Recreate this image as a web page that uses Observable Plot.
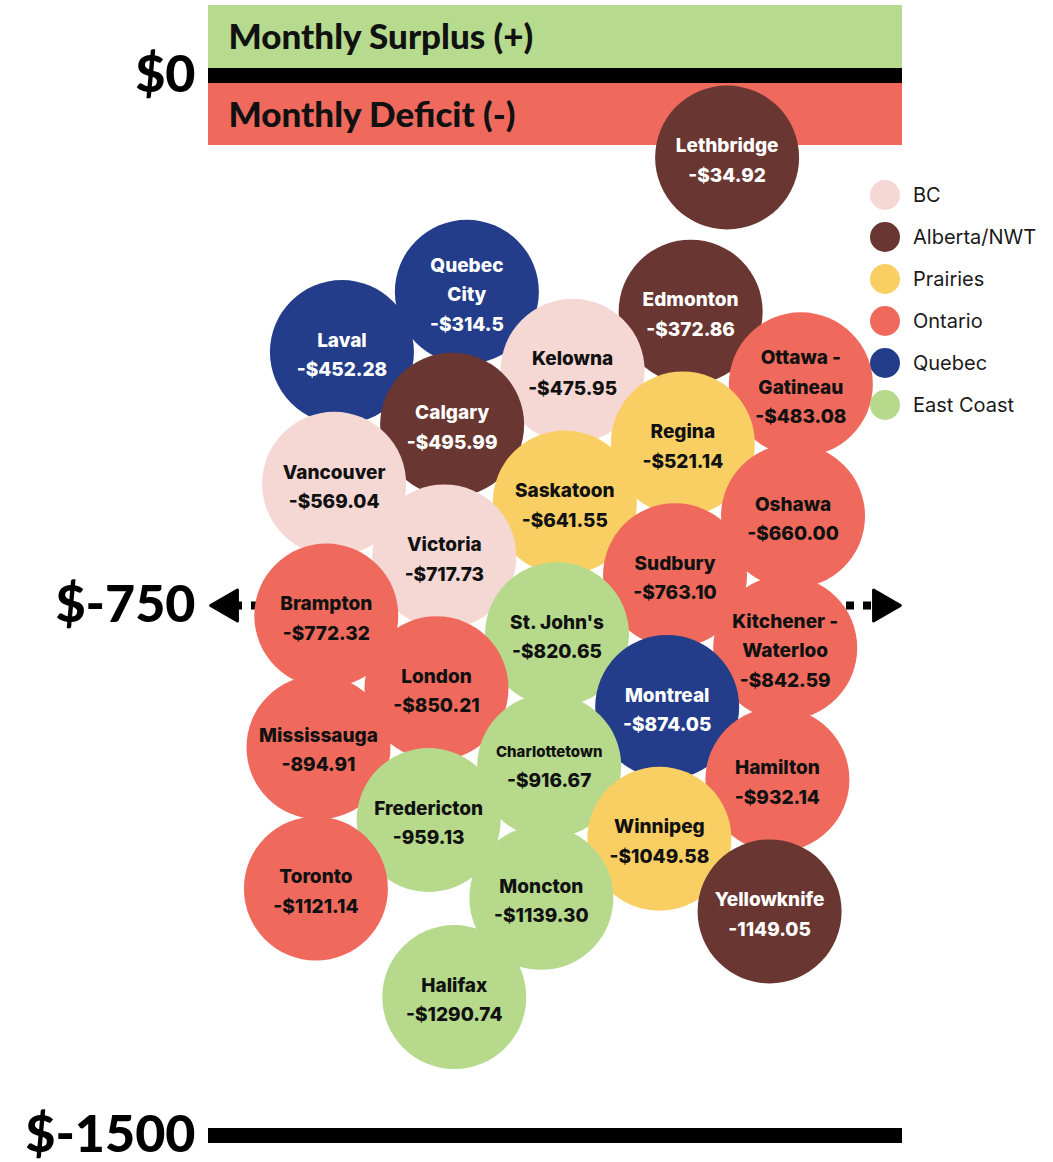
<!DOCTYPE html>
<html><head><meta charset="utf-8">
<script src="https://cdn.jsdelivr.net/npm/d3@7"></script>
<script src="https://cdn.jsdelivr.net/npm/@observablehq/plot@0.6"></script>
<style>
body{margin:0;background:#fff;}
#wrap{position:relative;width:1053px;height:1162px;overflow:hidden;}
#legend{position:absolute;left:870px;top:174px;font-family:Inter,"Open Sans",sans-serif;font-size:20px;color:#1a1a1a;}
.item{display:flex;align-items:center;height:42px;}
.sw{width:30px;height:30px;border-radius:50%;margin-right:13px;flex:none;}
</style></head><body><div id="wrap"><div id="legend"></div></div>
<script>
// ---- data ----
const cities = ["Lethbridge","Quebec City","Edmonton","Laval","Kelowna","Ottawa - Gatineau","Calgary","Regina","Vancouver","Saskatoon","Oshawa","Victoria","Sudbury","Brampton","St. John's","Kitchener - Waterloo","London","Montreal","Mississauga","Charlottetown","Hamilton","Fredericton","Winnipeg","Toronto","Moncton","Yellowknife","Halifax"];
const cityLabels = ["Lethbridge","Quebec\nCity","Edmonton","Laval","Kelowna","Ottawa -\nGatineau","Calgary","Regina","Vancouver","Saskatoon","Oshawa","Victoria","Sudbury","Brampton","St. John's","Kitchener -\nWaterloo","London","Montreal","Mississauga","Charlottetown","Hamilton","Fredericton","Winnipeg","Toronto","Moncton","Yellowknife","Halifax"];
const values = [-34.92,-314.5,-372.86,-452.28,-475.95,-483.08,-495.99,-521.14,-569.04,-641.55,-660.00,-717.73,-763.10,-772.32,-820.65,-842.59,-850.21,-874.05,-894.91,-916.67,-932.14,-959.13,-1049.58,-1121.14,-1139.30,-1149.05,-1290.74];
const valueLabels = ["-$34.92","-$314.5","-$372.86","-$452.28","-$475.95","-$483.08","-$495.99","-$521.14","-$569.04","-$641.55","-$660.00","-$717.73","-$763.10","-$772.32","-$820.65","-$842.59","-$850.21","-$874.05","-894.91","-$916.67","-$932.14","-959.13","-$1049.58","-$1121.14","-$1139.30","-1149.05","-$1290.74"];
const regions = ["Alberta/NWT","Quebec","Alberta/NWT","Quebec","BC","Ontario","Alberta/NWT","Prairies","BC","Prairies","Ontario","BC","Ontario","Ontario","East Coast","Ontario","Ontario","Quebec","Ontario","East Coast","Ontario","East Coast","Prairies","Ontario","East Coast","Alberta/NWT","East Coast"];
const regionNames = ["BC","Alberta/NWT","Prairies","Ontario","Quebec","East Coast"];
const regionColors = ["#f5d7d4","#6a3631","#f9cf64","#ef6a5c","#233d8b","#b6d98c"];
const darkRegions = ["Alberta/NWT","Quebec"];
const tickValues = [0,-750,-1500];
const tickLabels = ["$0","$-750","$-1500"];
const bannerLabels = ["Monthly Surplus (+)","Monthly Deficit (-)"];

// ---- layout (force-directed bubble column, y pulled toward each value) ----
const W = 1053, H = 1162, mL = 208, mR = 151, half = (W - mL - mR) / 2, R = 72;
const yS = d3.scaleLinear().domain([0, -1500]).range([75, 1135]);
// banner label area that bubbles must not cover (offset-x / pixel-y)
const box = {x0: -half, x1: -half + 345, y0: 85, y1: 145};
const nodes = cities.map((c, i) => ({i, ty: yS(values[i]), x: (2 - ((i * 3) % 5)) * 110, y: yS(values[i])}));
const sim = d3.forceSimulation(nodes)
  .force("y", d3.forceY(d => d.ty).strength(0.035))
  .force("x", d3.forceX(8).strength(0.004))
  .force("c", d3.forceCollide(66).iterations(4))
  .stop();
for (let k = 0; k < 600; k++) {
  sim.tick();
  for (const n of nodes) {
    n.x = Math.max(-256, Math.min(273, n.x));
    n.y = Math.max(157, Math.min(1035, n.y));
    const nx = Math.max(box.x0, Math.min(box.x1, n.x)), ny = Math.max(box.y0, Math.min(box.y1, n.y));
    const dx = n.x - nx, dy = n.y - ny, dist = Math.hypot(dx, dy);
    if (dist < R && dist > 0) { n.x = nx + dx / dist * R; n.y = ny + dy / dist * R; }
  }
}
const data = nodes.map(n => ({
  city: cities[n.i], label: cityLabels[n.i], value: values[n.i], vlabel: valueLabels[n.i],
  region: regions[n.i], px: n.x, py: yS.invert(n.y)
}));
const isSmall = d => d.label.length > 12 && !d.label.includes("\n");
const isDark = d => darkRegions.includes(d.region);
const bodyFont = "Inter, 'Open Sans', sans-serif";

const txt = (filter, fill) => Plot.text(data, {
  filter, x: "px", y: "py", text: d => d.label + "\n" + d.vlabel,
  fill, fontSize: 19, fontWeight: 800, lineHeight: 1.55, fontFamily: bodyFont
});

const plot = Plot.plot({
  width: W, height: H, marginLeft: mL, marginRight: mR, marginTop: 0, marginBottom: 0,
  style: {background: "white", overflow: "visible"},
  x: {domain: [-half, half], axis: null},
  y: {domain: [0, -1500], range: [75, 1135], axis: null},
  color: {domain: regionNames, range: regionColors},
  marks: [
    Plot.rect([tickValues[0]], {y1: d => d, y2: d => d, fill: "#b6da8e", insetTop: -70, insetBottom: 7}),
    Plot.rect([tickValues[0]], {y1: d => d, y2: d => d, fill: "#ef6a5c", insetTop: 8, insetBottom: -70}),
    Plot.ruleY([tickValues[0], tickValues[2]], {stroke: "black", strokeWidth: 15}),
    Plot.ruleY([tickValues[1]], {stroke: "black", strokeWidth: 8, strokeDasharray: "8 9", insetLeft: 26, insetRight: 30}),
    Plot.dot([tickValues[1]], {y: d => d, frameAnchor: "left", dx: 20, symbol: "triangle", rotate: -90, r: 11.5, fill: "black", stroke: "black", strokeWidth: 3, strokeLinejoin: "round"}),
    Plot.dot([tickValues[1]], {y: d => d, frameAnchor: "right", dx: -20, symbol: "triangle", rotate: 90, r: 11.5, fill: "black", stroke: "black", strokeWidth: 3, strokeLinejoin: "round"}),
    Plot.text(tickValues, {y: d => d, text: (d, i) => tickLabels[i], frameAnchor: "left", textAnchor: "end", dx: -13, fontSize: 52, fontWeight: 900, fill: "black", fontFamily: "Lato, sans-serif"}),
    Plot.text([tickValues[0]], {y: d => d, text: () => bannerLabels[0], frameAnchor: "left", textAnchor: "start", dx: 20, dy: -38, fontSize: 35, fontWeight: 900, fill: "#111", fontFamily: "Lato, sans-serif"}),
    Plot.text([tickValues[0]], {y: d => d, text: () => bannerLabels[1], frameAnchor: "left", textAnchor: "start", dx: 20, dy: 40, fontSize: 35, fontWeight: 900, fill: "#111", fontFamily: "Lato, sans-serif"}),
    Plot.dot(data, {x: "px", y: "py", r: R, fill: "region"}),
    txt(d => !isSmall(d) && !isDark(d), "#111"),
    txt(d => isDark(d), "white"),
    Plot.text(data, {filter: isSmall, x: "px", y: "py", text: "label", dy: -14, fill: "#111", fontSize: 15, fontWeight: 800, fontFamily: bodyFont}),
    Plot.text(data, {filter: isSmall, x: "px", y: "py", text: "vlabel", dy: 15, fill: "#111", fontSize: 19, fontWeight: 800, fontFamily: bodyFont})
  ]
});
document.getElementById("wrap").prepend(plot);

const legend = document.getElementById("legend");
regionNames.forEach((r, i) => {
  const it = document.createElement("div"); it.className = "item";
  const sw = document.createElement("div"); sw.className = "sw"; sw.style.background = regionColors[i];
  const lb = document.createElement("span"); lb.textContent = r;
  it.append(sw, lb); legend.append(it);
});
</script></body></html>
